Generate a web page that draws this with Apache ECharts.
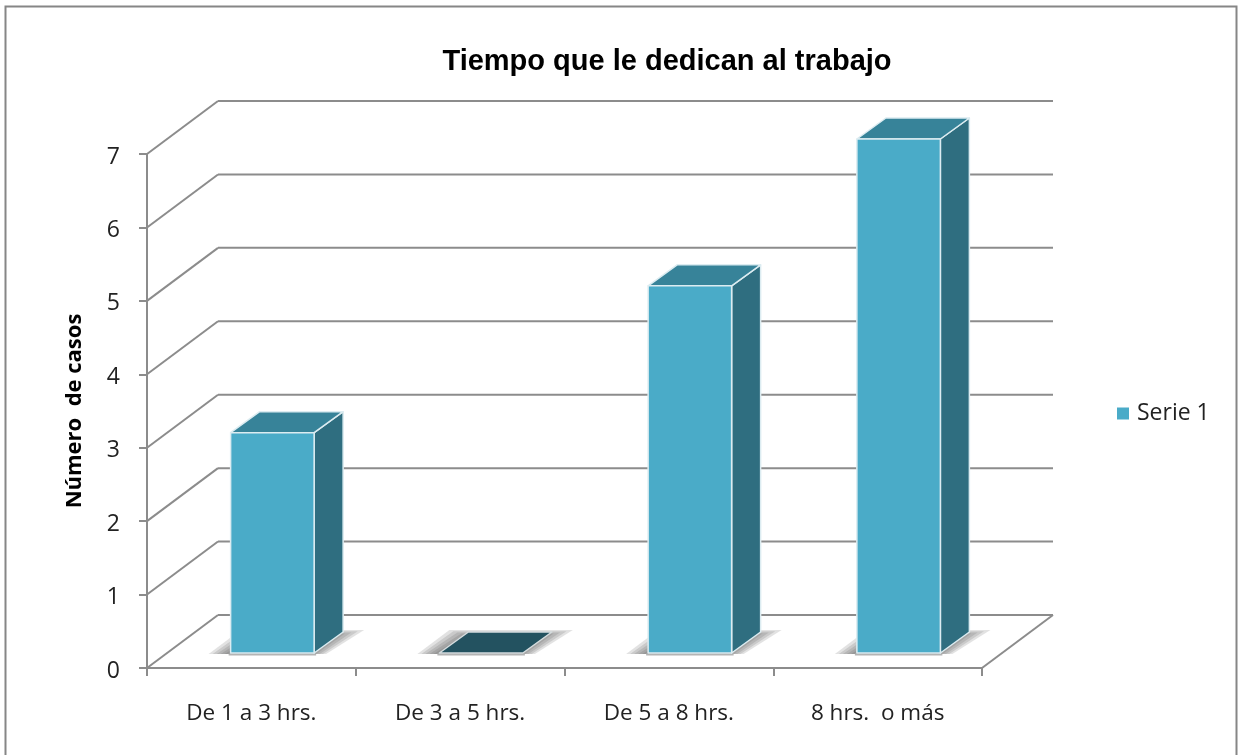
<!DOCTYPE html>
<html>
<head>
<meta charset="utf-8">
<style>html,body{margin:0;padding:0;background:#fff}#c{width:1238px;height:755px}</style>
<script src="https://cdn.jsdelivr.net/npm/echarts@6/dist/echarts.min.js"></script>
</head>
<body>
<div id="c"></div>
<script>
const titleText = 'Tiempo que le dedican al trabajo';
const yAxisTitle = 'Número  de casos';
const seriesName = 'Serie 1';
const categories = ['De 1 a 3 hrs.', 'De 3 a 5 hrs.', 'De 5 a 8 hrs.', '8 hrs.  o más'];
const casos = [3, 0, 5, 7];
const yTicks = [0, 1, 2, 3, 4, 5, 6, 7];

const WALL_DX = 71, WALL_DY = 53;
const BAR_SHIFT_X = 21, BAR_SHIFT_Y = 15;
const BAR_DX = 29, BAR_DY = 21;
const GRID = '#8c8c8c';
const FRONT = '#4aabc8', TOP = '#378399', SIDE = '#2f6e80', FLAT = '#235260', EDGE = '#dcecf1';

function line(x1, y1, x2, y2) {
  return {type: 'line', shape: {x1, y1, x2, y2}, style: {stroke: GRID, lineWidth: 2}};
}
function poly(points, fill, stroke) {
  return {type: 'polygon', shape: {points},
    style: {fill, stroke: stroke || null, lineWidth: stroke ? 1.5 : 0, lineJoin: 'round'}};
}
function wallItem(params, api) {
  const cs = params.coordSys;
  const y = api.coord([0, api.value(1)])[1];
  const x0 = cs.x, x1 = cs.x + cs.width;
  const kids = [
    line(x0, y, x0 + WALL_DX, y - WALL_DY),
    line(x0 + WALL_DX, y - WALL_DY, x1 + WALL_DX, y - WALL_DY)
  ];
  if (api.value(1) === 0) kids.push(line(x1, y, x1 + WALL_DX, y - WALL_DY));
  return {type: 'group', children: kids};
}
function barItem(params, api) {
  const cat = api.value(0), v = api.value(1);
  const c = api.coord([cat, v]), base = api.coord([cat, 0]);
  const w = api.size([1, 0])[0] * 0.4;
  const l = c[0] - w / 2 + BAR_SHIFT_X, r = l + w;
  const t = c[1] - BAR_SHIFT_Y, b = base[1] - BAR_SHIFT_Y;
  const kids = [];
  // soft cast shadow on the floor: stacked translucent layers shrinking toward the bar
  for (let k = 0; k < 6; k++) {
    const inset = k * 4, rise = k * 1.2;
    kids.push(poly([
      [l - 22 + inset, b + 1],
      [l + 10 + inset, b - BAR_DY - 2 + rise],
      [r + 50 - inset * 1.6, b - BAR_DY - 2 + rise],
      [r + 12 - inset * 0.8, b + 1]
    ], 'rgba(85,85,85,0.17)'));
  }
  const rim = line(l - 2, b + 1.5, r + 2, b + 1.5);
  rim.style = {stroke: '#b4b4b4', lineWidth: 2};
  kids.push(rim);
  if (v === 0) {
    kids.push(poly([[l, b], [r, b], [r + BAR_DX, b - BAR_DY], [l + BAR_DX, b - BAR_DY]], FLAT, '#d5dcde'));
  } else {
    kids.push(poly([[r, t], [r + BAR_DX, t - BAR_DY], [r + BAR_DX, b - BAR_DY], [r, b]], SIDE, EDGE));
    kids.push(poly([[l, t], [r, t], [r + BAR_DX, t - BAR_DY], [l + BAR_DX, t - BAR_DY]], TOP, EDGE));
    kids.push(poly([[l, t], [r, t], [r, b], [l, b]], FRONT, EDGE));
  }
  return {type: 'group', children: kids};
}

const chart = echarts.init(document.getElementById('c'), null, {renderer: 'canvas'});
chart.setOption({
  animation: false,
  backgroundColor: '#fff',
  title: {
    text: titleText, left: 662, top: 42, textAlign: 'center',
    textStyle: {fontFamily: 'Liberation Sans', fontWeight: 'bold', fontSize: 29, color: '#000'}
  },
  legend: {
    orient: 'vertical', left: 1112, top: 397, itemWidth: 12, itemHeight: 12,
    itemGap: 0,
    data: [{name: seriesName, icon: 'rect'}],
    textStyle: {fontFamily: 'Open Sans', fontSize: 23, color: '#222', padding: [0, 0, 0, 3]}
  },
  grid: {left: 147, right: 256, top: 154, bottom: 87},
  xAxis: {
    type: 'category', data: categories, boundaryGap: true,
    axisLine: {show: true, lineStyle: {color: GRID, width: 2}},
    axisTick: {show: true, length: 8, alignWithLabel: false, lineStyle: {color: GRID, width: 2}},
    splitLine: {show: false},
    axisLabel: {margin: 34, fontFamily: 'Open Sans', fontSize: 22.5, color: '#222'}
  },
  yAxis: {
    type: 'value', min: 0, max: 7, interval: 1,
    name: yAxisTitle, nameLocation: 'middle', nameGap: 61,
    nameTextStyle: {fontFamily: 'Open Sans', fontWeight: 'bold', fontSize: 22, color: '#000'},
    axisLine: {show: true, lineStyle: {color: GRID, width: 2}},
    axisTick: {show: true, length: 8, lineStyle: {color: GRID, width: 2}},
    splitLine: {show: false},
    axisLabel: {margin: 27, fontFamily: 'Open Sans', fontSize: 23, color: '#222', verticalAlign: 'top', lineHeight: 6}
  },
  graphic: [{
    type: 'rect', silent: true, z: -1,
    shape: {x: 5.5, y: 6.5, width: 1231, height: 760},
    style: {fill: 'none', stroke: '#868686', lineWidth: 2}
  }],
  series: [
    {name: 'paredes', type: 'custom', renderItem: wallItem, z: 1,
     encode: {x: 0, y: 1}, data: yTicks.map(t => [0, t]), silent: true},
    {name: seriesName, type: 'custom', renderItem: barItem, z: 2,
     encode: {x: 0, y: 1}, itemStyle: {color: FRONT},
     data: casos.map((v, i) => [i, v])}
  ]
});
</script>
</body>
</html>
